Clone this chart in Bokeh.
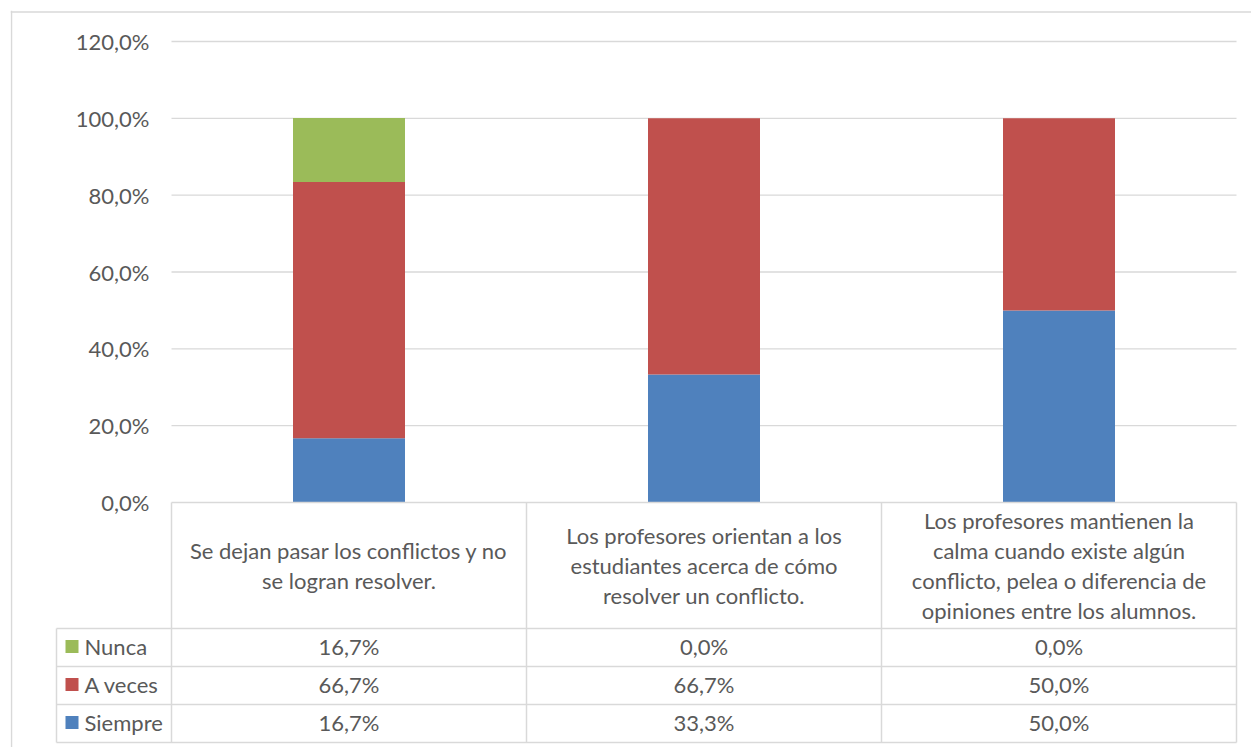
from bokeh.plotting import figure
from bokeh.models import Range1d, ColumnDataSource, Span
from bokeh.embed import file_html
from bokeh.resources import INLINE
from bokeh.core.properties import value

# ---------------- data ----------------
categories = [
    "Se dejan pasar los conflictos y no\nse logran resolver.",
    "Los profesores orientan a los\nestudiantes acerca de cómo\nresolver un conflicto.",
    "Los profesores mantienen la\ncalma cuando existe algún\nconflicto, pelea o diferencia de\nopiniones entre los alumnos.",
]
series_order = ["Nunca", "A veces", "Siempre"]          # table row order (top->bottom)
siempre = [16.7, 33.3, 50.0]
a_veces = [66.7, 66.7, 50.0]
nunca = [16.7, 0.0, 0.0]
y_ticks = [0, 20, 40, 60, 80, 100, 120]

colors = {"Siempre": "#4F81BD", "A veces": "#C0504D", "Nunca": "#9BBB59"}
values = {"Siempre": siempre, "A veces": a_veces, "Nunca": nunca}

TEXT = "#595959"
LINE = "#D9D9D9"
FONT = value("Lato")
FS = "22px"

# ------------- pixel geometry helpers (layout only) -------------
def X(px):
    return (px - 171) / 355.0

def Y(py):
    return (502 - py) / (461.0 / 120.0)

def fmt(v):
    return f"{v:.1f}".replace(".", ",") + "%"

W, H = 1251, 747
p = figure(width=W, height=H, output_backend="svg", toolbar_location=None,
           x_range=Range1d(X(10), X(W)), y_range=Range1d(Y(H), Y(10)),
           x_axis_location=None, y_axis_location=None,
           min_border_left=10, min_border_top=10, min_border_right=0, min_border_bottom=0,
           outline_line_color=None, background_fill_color="white", border_fill_color="white")
p.grid.grid_line_color = None

# chart-area border (left / top)
p.add_layout(Span(location=X(11), dimension="height", line_color=LINE, line_width=1.5))
p.add_layout(Span(location=Y(11.5), dimension="width", line_color=LINE, line_width=1.5))

n = len(categories)
# gridlines
grid_ticks = [t for t in y_ticks if t > 0]
p.segment(x0=[0] * len(grid_ticks), x1=[n] * len(grid_ticks), y0=grid_ticks, y1=grid_ticks,
          line_color=LINE, line_width=1.3)

# stacked bars
xs = [i + 0.5 for i in range(n)]
src = ColumnDataSource(dict(x=xs, Siempre=siempre, **{"A veces": a_veces}, Nunca=nunca))
stack = ["Siempre", "A veces", "Nunca"]
p.vbar_stack(stack, x="x", width=112 / 355.0, color=[colors[s] for s in stack],
             line_color=None, source=src)

# y tick labels
p.text(x=[X(149)] * len(y_ticks), y=y_ticks, text=[fmt(t) for t in y_ticks],
       text_font=FONT, text_font_size=FS, text_color=TEXT,
       text_align="right", text_baseline="middle")

# ---------------- data table ----------------
row_edges = [628, 666, 704, 742]
col_edges_px = [171 + 355 * i for i in range(n + 1)]
# horizontal lines
p.segment(x0=[0], x1=[n], y0=[0], y1=[0], line_color=LINE, line_width=1.5)
p.segment(x0=[X(56)] * len(row_edges), x1=[n] * len(row_edges),
          y0=[Y(r) for r in row_edges], y1=[Y(r) for r in row_edges],
          line_color=LINE, line_width=1.5)
# vertical lines
p.segment(x0=[X(c) for c in col_edges_px], x1=[X(c) for c in col_edges_px],
          y0=[0] * len(col_edges_px), y1=[Y(row_edges[-1])] * len(col_edges_px),
          line_color=LINE, line_width=1.5)
p.segment(x0=[X(56)], x1=[X(56)], y0=[Y(row_edges[0])], y1=[Y(row_edges[-1])],
          line_color=LINE, line_width=1.5)

# header (category) texts
p.text(x=xs, y=[Y(565)] * n, text=categories, text_font=FONT, text_font_size=FS,
       text_color=TEXT, text_align="center", text_baseline="middle", text_line_height=1.1)

# rows
for r, name in enumerate(series_order):
    yc = Y((row_edges[r] + row_edges[r + 1]) / 2 - 1)
    p.scatter(x=[X(71.5)], y=[yc], marker="square", size=13, color=colors[name], line_color=None)
    p.text(x=[X(84)], y=[yc], text=[name], text_font=FONT, text_font_size=FS,
           text_color=TEXT, text_align="left", text_baseline="middle")
    p.text(x=xs, y=[yc] * n, text=[fmt(v) for v in values[name]], text_font=FONT,
           text_font_size=FS, text_color=TEXT, text_align="center", text_baseline="middle")

open("out.html", "w").write(file_html(p, INLINE))
